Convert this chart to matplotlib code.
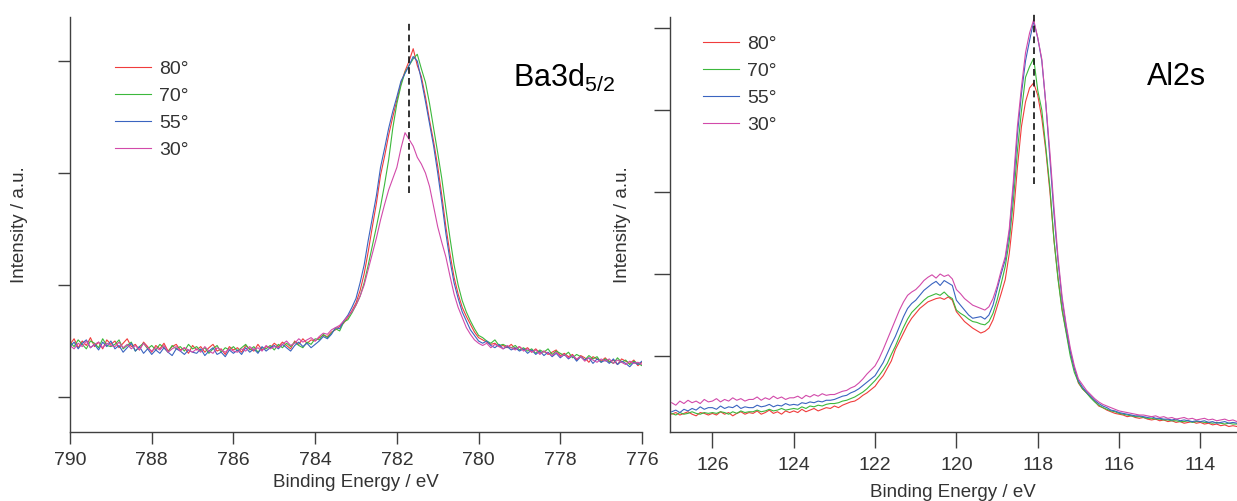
import numpy as np
import matplotlib

matplotlib.use("Agg")
import matplotlib.pyplot as plt  # noqa: E402

plt.rcParams["font.family"] = ["Liberation Sans", "DejaVu Sans"]
plt.rcParams["mathtext.default"] = "regular"

INK = "#333333"
AXIS = "#404040"
COLORS = ["#f03c3c", "#3cb83c", "#3a64c0", "#d24aaa"]
ANGLES = ["80°", "70°", "55°", "30°"]

# Ba3d5/2 : binding energy grid 790.0 -> 776.0 eV, step 0.1 ; intensities x100 (arb.)
ba_energy = np.round(np.linspace(790.0, 776.0, 141), 2)
ba_80 = [
    47, 52, 44, 50, 46, 53, 45, 49, 43, 51, 47,
    50, 44, 48, 52, 45, 47, 42, 49, 45, 40,
    46, 43, 48, 41, 45, 47, 42, 44, 39, 46,
    42, 45, 40, 44, 47, 41, 43, 38, 45, 42,
    44, 40, 46, 43, 41, 47, 42, 45, 44, 48,
    45, 49, 46, 43, 50, 47, 52, 48, 51, 50,
    53, 55, 54, 58, 60, 63, 66, 71, 77, 84,
    95, 110, 130, 152, 173, 198, 215, 234, 250, 265,
    280, 291, 300, 311, 296, 286, 268, 247, 228, 206,
    180, 152, 128, 107, 92, 80, 72, 65, 58, 53,
    51, 49, 47, 48, 45, 46, 44, 47, 43, 45,
    42, 44, 40, 43, 39, 41, 38, 40, 42, 37,
    39, 36, 38, 33, 37, 35, 31, 36, 34, 32,
    35, 31, 33, 29, 34, 32, 30, 33, 28, 31,
]
ba_70 = [
    49, 45, 51, 47, 43, 50, 48, 44, 52, 46, 45,
    47, 51, 43, 46, 49, 41, 45, 48, 43, 46,
    42, 47, 44, 40, 46, 43, 45, 41, 47, 43,
    45, 41, 44, 39, 43, 46, 40, 44, 42, 45,
    41, 44, 47, 42, 45, 40, 44, 43, 46, 42,
    47, 44, 48, 45, 49, 46, 44, 49, 47, 52,
    51, 56, 53, 57, 61, 59, 67, 69, 75, 82,
    90, 102, 118, 135, 152, 170, 190, 212, 240, 262,
    278, 290, 296, 302, 306, 293, 281, 262, 240, 218,
    195, 168, 142, 118, 100, 86, 76, 68, 61, 55,
    53, 50, 48, 51, 46, 47, 45, 44, 46, 42,
    44, 41, 43, 39, 42, 40, 43, 38, 41, 39,
    37, 40, 35, 38, 36, 33, 37, 34, 36, 31,
    34, 32, 30, 35, 31, 33, 29, 32, 30, 28,
]
ba_55 = [
    45, 49, 43, 48, 51, 44, 47, 42, 49, 45, 50,
    43, 46, 40, 44, 48, 41, 45, 39, 43, 38,
    42, 39, 44, 40, 37, 43, 41, 38, 42, 40,
    39, 43, 37, 41, 44, 38, 40, 36, 42, 39,
    42, 38, 44, 40, 43, 39, 45, 41, 44, 46,
    43, 47, 44, 41, 46, 49, 45, 48, 44, 47,
    50, 54, 52, 56, 62, 61, 68, 73, 80, 88,
    102, 118, 140, 160, 180, 205, 222, 240, 255, 268,
    282, 289, 296, 304, 300, 283, 264, 244, 224, 200,
    174, 146, 122, 102, 88, 76, 68, 60, 55, 50,
    48, 50, 46, 44, 47, 43, 45, 42, 44, 41,
    43, 39, 42, 38, 41, 37, 40, 36, 39, 35,
    38, 34, 37, 32, 36, 33, 35, 30, 34, 31,
    33, 30, 34, 29, 32, 30, 27, 31, 29, 32,
]
ba_30 = [
    46, 43, 48, 45, 50, 44, 47, 49, 44, 48, 46,
    45, 49, 44, 47, 43, 46, 42, 48, 44, 41,
    44, 42, 46, 40, 43, 45, 41, 44, 42, 40,
    43, 40, 45, 41, 39, 44, 42, 40, 43, 41,
    40, 43, 41, 45, 42, 44, 41, 46, 43, 45,
    44, 47, 50, 46, 48, 52, 49, 51, 53, 50,
    54, 57, 56, 60, 62, 64, 68, 72, 76, 82,
    90, 100, 114, 128, 142, 158, 172, 185, 195, 205,
    222, 236, 230, 224, 214, 208, 200, 188, 170, 152,
    138, 125, 108, 92, 80, 71, 62, 56, 51, 48,
    46, 48, 44, 47, 45, 43, 46, 44, 42, 45,
    41, 43, 40, 42, 38, 41, 39, 37, 40, 36,
    38, 35, 37, 34, 36, 32, 35, 33, 31, 34,
    32, 34, 30, 33, 31, 29, 32, 30, 31, 29,
]

# Al2s : binding energy grid 127.0 -> 113.1 eV, step 0.1 ; intensities x100 (arb.)
al_energy = np.round(np.linspace(127.0, 113.1, 140), 2)
al_80 = [
    -71, -69, -72, -70, -68, -71, -73, -69, -70, -72,
    -70, -72, -68, -71, -69, -73, -70, -68, -71, -69,
    -70, -67, -71, -69, -66, -70, -68, -71, -67, -69,
    -67, -69, -65, -68, -66, -64, -67, -65, -63, -64,
    -61, -63, -60, -58, -56, -55, -52, -48, -45, -41,
    -37, -30, -24, -15, -6, 8, 18, 28, 38, 46,
    52, 58, 62, 66, 68, 70, 71, 69, 72, 68,
    54, 48, 42, 38, 34, 31, 28, 30, 34, 44,
    60, 76, 93, 125, 170, 230, 280, 310, 327, 333,
    318, 290, 250, 200, 141, 95, 57, 30, 4, -15,
    -33, -40, -45, -50, -55, -61, -63, -66, -68, -70,
    -71, -72, -74, -73, -75, -76, -75, -77, -78, -77,
    -79, -78, -80, -79, -81, -80, -82, -81, -80, -82,
    -81, -83, -82, -84, -83, -85, -84, -86, -85, -86,
]
al_70 = [
    -70, -72, -69, -71, -70, -68, -70, -71, -69, -70,
    -69, -70, -68, -69, -71, -68, -70, -67, -69, -68,
    -68, -66, -68, -67, -65, -67, -66, -64, -66, -65,
    -64, -65, -62, -64, -61, -62, -60, -61, -59, -58,
    -58, -57, -55, -54, -52, -50, -47, -44, -40, -35,
    -30, -24, -17, -9, 2, 12, 24, 35, 45, 53,
    58, 63, 68, 72, 74, 76, 74, 78, 73, 70,
    56, 52, 49, 45, 42, 41, 39, 38, 42, 52,
    68, 88, 109, 140, 189, 250, 299, 340, 353, 363,
    324, 300, 254, 205, 141, 93, 55, 28, 0, -20,
    -32, -40, -45, -51, -56, -60, -63, -65, -67, -68,
    -70, -71, -72, -73, -74, -74, -75, -76, -76, -77,
    -77, -78, -78, -79, -79, -80, -80, -79, -81, -80,
    -80, -81, -81, -82, -81, -82, -83, -82, -83, -83,
]
al_55 = [
    -68, -66, -69, -65, -67, -64, -66, -62, -65, -63,
    -63, -65, -61, -64, -62, -63, -60, -64, -62, -63,
    -63, -60, -62, -61, -59, -62, -60, -61, -58, -60,
    -59, -60, -57, -58, -56, -57, -55, -56, -54, -54,
    -53, -51, -49, -48, -45, -43, -40, -36, -32, -28,
    -24, -16, -8, 3, 14, 24, 36, 48, 58, 64,
    68, 74, 80, 84, 88, 91, 86, 92, 89, 86,
    68, 62, 56, 50, 46, 47, 48, 45, 50, 62,
    81, 100, 117, 150, 205, 270, 320, 360, 385, 408,
    388, 360, 307, 240, 173, 115, 68, 35, 6, -15,
    -30, -38, -44, -49, -54, -58, -61, -63, -66, -67,
    -69, -70, -71, -72, -73, -73, -74, -75, -74, -76,
    -76, -77, -77, -78, -77, -79, -78, -79, -80, -79,
    -80, -79, -81, -80, -82, -81, -80, -82, -81, -82,
]
al_30 = [
    -57, -60, -55, -58, -54, -57, -55, -58, -53, -56,
    -55, -52, -56, -53, -55, -51, -54, -52, -55, -53,
    -53, -50, -54, -51, -53, -49, -52, -50, -53, -51,
    -51, -49, -52, -48, -50, -47, -49, -46, -48, -47,
    -47, -45, -43, -42, -39, -37, -33, -28, -22, -17,
    -12, -3, 8, 20, 32, 44, 56, 66, 74, 78,
    81, 86, 92, 96, 99, 95, 100, 97, 99, 94,
    81, 76, 70, 66, 62, 60, 58, 56, 60, 70,
    85, 104, 121, 155, 213, 280, 328, 370, 394, 410,
    388, 362, 307, 248, 181, 120, 72, 38, 10, -12,
    -28, -35, -42, -47, -52, -56, -59, -61, -63, -65,
    -67, -68, -69, -70, -71, -72, -72, -73, -74, -73,
    -75, -74, -76, -75, -77, -76, -75, -77, -76, -78,
    -77, -76, -78, -77, -79, -78, -77, -79, -78, -80,
]

ba_peak = 781.7
al_peak = 118.1

W, H = 1237, 501


def _axes(fig, left_px, right_px, top_px, bottom_px):
    ax = fig.add_axes([left_px / W, 1 - bottom_px / H,
                       (right_px - left_px) / W, (bottom_px - top_px) / H])
    ax.patch.set_alpha(0)
    for s in ("top", "right"):
        ax.spines[s].set_visible(False)
    for s in ("left", "bottom"):
        ax.spines[s].set_color(AXIS)
        ax.spines[s].set_linewidth(1.0)
    ax.tick_params(colors=AXIS, labelcolor=INK, labelsize=14, width=1.0, direction="out")
    return ax


def _legend(ax, anchor):
    ax.legend(ANGLES, loc="upper left", bbox_to_anchor=anchor, frameon=False,
              fontsize=14, labelcolor=INK, handlelength=1.85, handletextpad=0.4,
              labelspacing=0.48, borderpad=0, borderaxespad=0)


fig = plt.figure(figsize=(W / 100, H / 100), dpi=100)
fig.patch.set_facecolor("white")

# ---- left: Ba3d5/2
ax1 = _axes(fig, 70, 642, 17, 432)
for y, c in zip([ba_80, ba_70, ba_55, ba_30], COLORS):
    ax1.plot(ba_energy, np.array(y) / 100, color=c, linewidth=0.8)
ax1.plot([ba_peak, ba_peak], [1.82, 3.36], color="#111111", linewidth=1.2,
         linestyle=(0, (4, 2.5)), clip_on=False)
ax1.set_xlim(790, 776)
ax1.set_ylim(-0.3125, 3.393)
ax1.set_xticks([790, 788, 786, 784, 782, 780, 778, 776])
ax1.set_yticks([0, 1, 2, 3])
ax1.set_yticklabels([])
ax1.tick_params(length=8.3, pad=6)
ax1.set_xlabel("Binding Energy / eV", fontsize=13.5, color=INK)
ax1.xaxis.set_label_coords(0.5, -0.102)
ax1.set_ylabel("Intensity / a.u.", fontsize=13.5, color=INK)
ax1.yaxis.set_label_coords(-0.074, 0.5)
_legend(ax1, (0.0787, 0.896))
fig.text(513 / W, 1 - 87 / H, r"Ba3d$_{5/2}$", fontsize=22, color="black",
         ha="left", va="baseline")

# ---- right: Al2s
ax2 = _axes(fig, 669.7, 1237, 17, 432)
for y, c in zip([al_80, al_70, al_55, al_30], COLORS):
    ax2.plot(al_energy, np.array(y) / 100, color=c, linewidth=0.8)
ax2.plot([al_peak, al_peak], [2.1, 4.195], color="#111111", linewidth=1.2,
         linestyle=(0, (4, 2.5)), clip_on=False)
ax2.set_xlim(127.05, 113.1)
ax2.set_ylim(-0.927, 4.134)
ax2.set_xticks([126, 124, 122, 120, 118, 116, 114])
ax2.set_yticks([0, 1, 2, 3, 4])
ax2.set_yticklabels([])
ax2.tick_params(length=11.3, pad=7)
ax2.set_xlabel("Binding Energy / eV", fontsize=13.5, color=INK)
ax2.xaxis.set_label_coords(0.5, -0.126)
ax2.set_ylabel("Intensity / a.u.", fontsize=13.5, color=INK)
ax2.yaxis.set_label_coords(-0.068, 0.5)
_legend(ax2, (0.0587, 0.956))
fig.text(1147 / W, 1 - 85 / H, "Al2s", fontsize=22, color="black",
         ha="left", va="baseline")

fig.savefig("out.png", dpi=100, facecolor="white")
